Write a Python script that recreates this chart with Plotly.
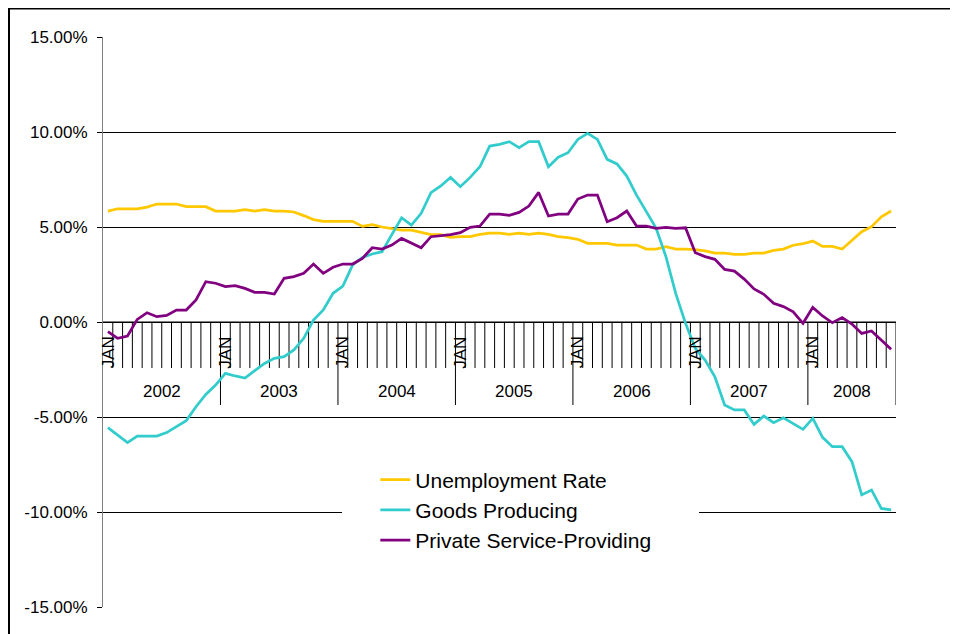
import plotly.graph_objects as go

# ---------------- data ----------------
years = [2002, 2003, 2004, 2005, 2006, 2007, 2008]
month_names = ["JAN", "FEB", "MAR", "APR", "MAY", "JUN",
               "JUL", "AUG", "SEP", "OCT", "NOV", "DEC"]
months_in_last_year = 9  # data runs through Sep 2008

categories = [f"{m} {y}" for y in years for m in month_names][: 12 * (len(years) - 1) + months_in_last_year]

unemployment_rate = [
    5.84, 5.96, 5.96, 5.96, 6.05, 6.21, 6.21, 6.21, 6.07, 6.07, 6.07, 5.84,
    5.84, 5.84, 5.91, 5.84, 5.91, 5.84, 5.84, 5.79, 5.60, 5.39, 5.30, 5.30,
    5.30, 5.30, 5.03, 5.12, 5.00, 4.91, 4.84, 4.84, 4.74, 4.60, 4.60, 4.46,
    4.49, 4.49, 4.61, 4.68, 4.68, 4.61, 4.68, 4.61, 4.68, 4.61, 4.49, 4.44,
    4.35, 4.14, 4.14, 4.14, 4.05, 4.05, 4.05, 3.84, 3.84, 3.96, 3.84, 3.84,
    3.81, 3.74, 3.63, 3.63, 3.56, 3.56, 3.63, 3.63, 3.77, 3.84, 4.04, 4.12,
    4.26, 3.98, 3.98, 3.84, 4.32, 4.75, 5.02, 5.54, 5.84,
]

goods_producing = [
    -5.56, -5.95, -6.35, -6.00, -6.00, -6.00, -5.82, -5.51, -5.19, -4.46, -3.81, -3.32,
    -2.70, -2.84, -2.95, -2.56, -2.18, -1.91, -1.82, -1.47, -0.86, 0.10, 0.63, 1.51,
    1.89, 3.00, 3.40, 3.58, 3.70, 4.60, 5.49, 5.10, 5.72, 6.81, 7.16, 7.61,
    7.12, 7.61, 8.17, 9.26, 9.35, 9.49, 9.18, 9.49, 9.49, 8.17, 8.67, 8.91,
    9.61, 9.93, 9.61, 8.56, 8.32, 7.68, 6.68, 5.81, 4.93, 3.44, 1.51, -0.07,
    -1.39, -2.00, -2.88, -4.37, -4.63, -4.63, -5.39, -4.95, -5.30, -5.04, -5.33, -5.65,
    -5.07, -6.07, -6.56, -6.56, -7.35, -9.10, -8.84, -9.81, -9.89,
]

private_service_providing = [
    -0.51, -0.86, -0.74, 0.14, 0.49, 0.28, 0.35, 0.63, 0.63, 1.16, 2.12, 2.04,
    1.86, 1.91, 1.77, 1.56, 1.56, 1.47, 2.30, 2.39, 2.56, 3.05, 2.56, 2.88,
    3.05, 3.05, 3.35, 3.91, 3.84, 4.05, 4.40, 4.14, 3.91, 4.49, 4.54, 4.60,
    4.70, 4.98, 5.05, 5.68, 5.68, 5.61, 5.77, 6.10, 6.82, 5.58, 5.68, 5.68,
    6.47, 6.68, 6.68, 5.28, 5.49, 5.84, 5.05, 5.05, 4.93, 4.98, 4.93, 4.96,
    3.65, 3.44, 3.30, 2.77, 2.68, 2.26, 1.74, 1.46, 0.98, 0.81, 0.54, -0.07,
    0.77, 0.32, -0.04, 0.23, -0.11, -0.60, -0.47, -0.95, -1.44,
]

y_tick_values = [15, 10, 5, 0, -5, -10, -15]
y_tick_labels = ["15.00%", "10.00%", "5.00%", "0.00%", "-5.00%", "-10.00%", "-15.00%"]

# ---------------- style ----------------
FONT = "Liberation Sans, Arial, sans-serif"
series = [
    ("Unemployment Rate", unemployment_rate, "#FFC800"),
    ("Goods Producing", goods_producing, "#33CCCC"),
    ("Private Service-Providing", private_service_providing, "#800080"),
]

fig = go.Figure()
for name, vals, color in series:
    fig.add_trace(go.Scatter(
        x=categories, y=vals, name=name, mode="lines",
        line=dict(color=color, width=2.75),
        hoverinfo="skip",
    ))

n = len(categories)
MONTH_TICK_DEPTH = -2.42
YEAR_TICK_DEPTH = -4.37
JAN_LABEL_Y = -1.6
YEAR_LABEL_Y = -3.64

# plot-area geometry (px inside the figure)
ML, MR, MT, MB = 95, 70, 29, 35
PW = 958 - ML - MR
PH = 634 - MT - MB


def px_to_paper_x(px):
    return (px - ML) / PW


def px_to_paper_y(py):
    return (MT + PH - py) / PH


shapes = []
# white box around the legend (hides the gridline like the original)
shapes.append(dict(type="rect", xref="paper", yref="paper",
                   x0=px_to_paper_x(334), x1=px_to_paper_x(691),
                   y0=px_to_paper_y(552), y1=px_to_paper_y(457),
                   line=dict(width=0), fillcolor="white", layer="above"))
# category-axis tick marks drawn at the zero line
for k in range(1, n + 1):
    depth = YEAR_TICK_DEPTH if (k % 12 == 0 or k == n) else MONTH_TICK_DEPTH
    shapes.append(dict(type="line", xref="x", yref="y",
                       x0=k - 0.5, x1=k - 0.5, y0=0, y1=depth,
                       line=dict(color="black", width=1), layer="between"))
# x axis line at zero
shapes.append(dict(type="line", xref="x", yref="y", x0=-0.5, x1=n - 0.5, y0=0, y1=0,
                   line=dict(color="black", width=1), layer="between"))
# outer chart border: top and left edges
shapes.append(dict(type="line", xref="paper", yref="paper",
                   x0=px_to_paper_x(0), x1=px_to_paper_x(958),
                   y0=px_to_paper_y(0.5), y1=px_to_paper_y(0.5),
                   line=dict(color="black", width=2), layer="above"))
shapes.append(dict(type="line", xref="paper", yref="paper",
                   x0=px_to_paper_x(1), x1=px_to_paper_x(1),
                   y0=px_to_paper_y(0), y1=px_to_paper_y(634),
                   line=dict(color="black", width=2), layer="above"))

annotations = []
for yi, y in enumerate(years):
    start = yi * 12
    if start >= n:
        break
    end = min(start + 12, n)
    annotations.append(dict(x=start, y=JAN_LABEL_Y, xref="x", yref="y", text="JAN",
                            textangle=-90, showarrow=False,
                            font=dict(family=FONT, size=17, color="black")))
    annotations.append(dict(x=(start - 0.5 + end - 0.5) / 2, y=YEAR_LABEL_Y, xref="x", yref="y",
                            text=str(y), showarrow=False,
                            font=dict(family=FONT, size=17, color="black")))

fig.update_layout(
    width=958, height=634,
    margin=dict(l=ML, r=MR, t=MT, b=MB, autoexpand=False),
    paper_bgcolor="white", plot_bgcolor="white",
    font=dict(family=FONT, size=17, color="black"),
    showlegend=True,
    legend=dict(x=0.3434, y=0.2588, xanchor="left", yanchor="top",
                bgcolor="white", font=dict(family=FONT, size=21, color="black"),
                borderwidth=0),
    shapes=shapes,
    annotations=annotations,
    hovermode=False,
)
fig.update_xaxes(type="category", range=[-0.5, n - 0.5], showticklabels=False,
                 showgrid=False, showline=False, ticks="", zeroline=False)
fig.update_yaxes(range=[-15, 15], tickvals=y_tick_values, ticktext=y_tick_labels,
                 showgrid=True, gridcolor="black", gridwidth=1,
                 zeroline=True, zerolinecolor="black", zerolinewidth=1,
                 ticks="outside", ticklen=5, tickcolor="black",
                 showline=True, linecolor="#808080", linewidth=1,
                 tickfont=dict(family=FONT, size=17, color="black"),
                 ticklabelstandoff=6)

fig.write_html("out.html")
